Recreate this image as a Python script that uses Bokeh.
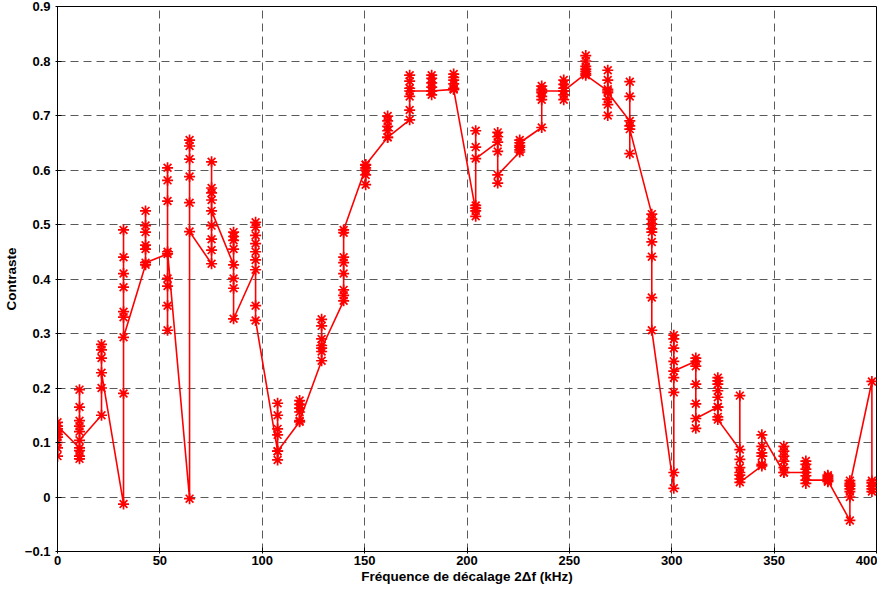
from bokeh.plotting import figure
from bokeh.models import Range1d, FixedTicker, ColumnDataSource
from bokeh.embed import file_html
from bokeh.resources import INLINE

# Offset frequency 2Δf (kHz) of each measurement group
freq_steps = [0, 10.75, 21.5, 32.25, 43, 53.75, 64.5, 75.25, 86, 96.75,
              107.5, 118.25, 129, 139.75, 150.5, 161.25, 172, 182.75, 193.5, 204.25,
              215, 225.75, 236.5, 247.25, 258, 268.75, 279.5, 290.25, 301, 311.75,
              322.5, 333.25, 344, 354.75, 365.5, 376.25, 387, 397.75]

# Contrast values measured at each frequency (in acquisition order)
contrast_runs = [
    [0.075, 0.09, 0.1, 0.11, 0.115, 0.12, 0.125, 0.137, 0.13],
    [0.09, 0.197, 0.165, 0.14, 0.13, 0.12, 0.075, 0.07, 0.085, 0.104],
    [0.15, 0.28, 0.27, 0.255, 0.2, 0.228],
    [-0.013, 0.19, 0.49, 0.44, 0.41, 0.385, 0.34, 0.33, 0.293],
    [0.426, 0.525, 0.498, 0.486, 0.462, 0.455, 0.43],
    [0.446, 0.604, 0.581, 0.543, 0.401, 0.387, 0.351, 0.306, 0.45],
    [-0.003, 0.655, 0.644, 0.62, 0.588, 0.54, 0.487],
    [0.428, 0.453, 0.473, 0.498, 0.615, 0.567, 0.558, 0.545, 0.525],
    [0.426, 0.486, 0.478, 0.471, 0.455, 0.401, 0.383, 0.327],
    [0.417, 0.504, 0.495, 0.48, 0.465, 0.45, 0.435, 0.351, 0.324],
    [0.084, 0.172, 0.15, 0.125, 0.114, 0.068, 0.084],
    [0.138, 0.177, 0.17, 0.163, 0.156, 0.14],
    [0.25, 0.326, 0.314, 0.29, 0.278, 0.267, 0.273],
    [0.36, 0.37, 0.38, 0.41, 0.43, 0.44, 0.485, 0.49],
    [0.604, 0.591, 0.573, 0.6, 0.61, 0.609],
    [0.66, 0.699, 0.69, 0.68, 0.672, 0.66],
    [0.692, 0.71, 0.774, 0.763, 0.75, 0.735, 0.745],
    [0.745, 0.774, 0.768, 0.76, 0.752, 0.738, 0.745],
    [0.748, 0.776, 0.77, 0.765, 0.758, 0.75, 0.748],
    [0.525, 0.515, 0.53, 0.535, 0.672, 0.642, 0.621],
    [0.651, 0.669, 0.661, 0.634, 0.576, 0.591],
    [0.633, 0.637, 0.642, 0.655, 0.645, 0.65],
    [0.678, 0.729, 0.735, 0.742, 0.754, 0.748, 0.745],
    [0.745, 0.729, 0.738, 0.765, 0.757, 0.75, 0.745],
    [0.777, 0.781, 0.81, 0.8, 0.79, 0.785, 0.774],
    [0.745, 0.783, 0.765, 0.748, 0.7, 0.72, 0.73, 0.742],
    [0.69, 0.762, 0.735, 0.63, 0.681, 0.675],
    [0.519, 0.51, 0.501, 0.492, 0.486, 0.468, 0.441, 0.366, 0.306],
    [0.016, 0.045, 0.192, 0.219, 0.297, 0.29, 0.273, 0.249, 0.231],
    [0.249, 0.255, 0.24, 0.207, 0.171, 0.126, 0.144],
    [0.165, 0.219, 0.213, 0.207, 0.195, 0.183, 0.165, 0.147, 0.142],
    [0.087, 0.186, 0.069, 0.054, 0.045, 0.04, 0.033, 0.027],
    [0.057, 0.06, 0.075, 0.081, 0.093, 0.114],
    [0.045, 0.093, 0.084, 0.075, 0.066, 0.054, 0.045],
    [0.045, 0.066, 0.06, 0.051, 0.039, 0.025, 0.031],
    [0.031, 0.04, 0.037, 0.034, 0.028, 0.03],
    [-0.043, 0.0, 0.01, 0.015, 0.02, 0.025, 0.03, 0.022],
    [0.212, 0.03, 0.026, 0.02, 0.015, 0.01],
]

x_ticks = [0, 50, 100, 150, 200, 250, 300, 350, 400]
y_ticks = [-0.1, 0, 0.1, 0.2, 0.3, 0.4, 0.5, 0.6, 0.7, 0.8, 0.9]

xs, ys = [], []
for f, run in zip(freq_steps, contrast_runs):
    for c in run:
        xs.append(f)
        ys.append(c)
src = ColumnDataSource(dict(x=xs, y=ys))

p = figure(width=877, height=586, output_backend="svg", toolbar_location=None,
           x_range=Range1d(0, 400), y_range=Range1d(-0.1, 0.9),
           min_border_left=57, min_border_right=1, min_border_top=6, min_border_bottom=0)
p.background_fill_color = "white"
p.border_fill_color = "white"
p.outline_line_color = "black"
p.outline_line_width = 1

p.line("x", "y", source=src, line_color="#ff0000", line_width=1.6)
p.scatter("x", "y", source=src, marker="asterisk", size=11, line_color="#ff0000", line_width=1.7)

font = "Liberation Sans"
p.xaxis.ticker = FixedTicker(ticks=x_ticks)
p.yaxis.ticker = FixedTicker(ticks=y_ticks)
p.yaxis.major_label_overrides = {0: "0"}
for ax in (p.xaxis[0], p.yaxis[0]):
    ax.major_label_text_font = font
    ax.major_label_text_font_style = "bold"
    ax.major_label_text_font_size = "13px"
    ax.major_label_text_color = "black"
    ax.axis_label_text_font = font
    ax.axis_label_text_font_style = "bold"
    ax.axis_label_text_font_size = "13.5px"
    ax.axis_label_text_color = "black"
    ax.axis_line_color = "black"
    ax.major_tick_line_color = "black"
    ax.major_tick_in = 4
    ax.major_tick_out = 2
    ax.minor_tick_line_color = None
p.xaxis.axis_label = "Fréquence de décalage 2Δf (kHz)"
p.yaxis.axis_label = "Contraste"
p.xaxis.major_label_standoff = 2
p.xaxis.axis_label_standoff = 1
p.yaxis.major_label_standoff = 5
p.yaxis.axis_label_standoff = 3

for g in (p.xgrid[0], p.ygrid[0]):
    g.grid_line_color = "#5a5a5a"
    g.grid_line_dash = "8 5"
    g.grid_line_width = 1

open("out.html", "w").write(file_html(p, INLINE))
